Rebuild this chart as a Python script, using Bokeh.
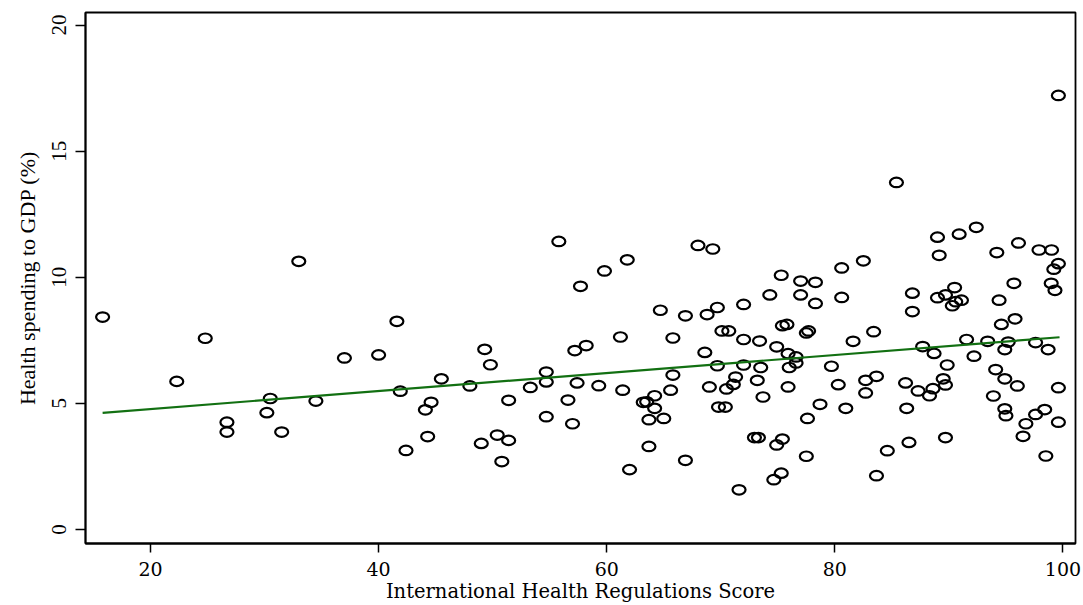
from bokeh.plotting import figure
from bokeh.models import Range1d, FixedTicker, ColumnDataSource
from bokeh.embed import file_html
from bokeh.resources import INLINE

# International Health Regulations score (x) vs health spending % of GDP (y)
ihr_score = [
    15.8, 24.8, 22.3, 30.5, 34.5, 30.2, 26.7, 26.7, 31.5, 37.0, 33.0,
    55.8, 57.7, 41.6, 40.0, 49.3, 49.8, 58.2, 57.2, 45.5, 41.9, 48.0,
    54.7, 54.7, 53.3, 57.4, 44.6, 44.1, 51.4, 56.6, 54.7, 57.0, 44.3,
    42.4, 49.0, 50.4, 51.4, 50.8,
    68.0, 69.3, 61.8, 59.8, 75.3, 77.0, 78.3, 74.3, 77.0, 78.3, 64.7,
    66.9, 68.8, 69.7, 72.0, 70.1, 70.7, 75.4, 75.8, 77.5, 77.7, 61.2,
    65.8, 72.0, 73.4, 74.9, 68.6, 75.9, 76.6,
    76.6, 69.7, 72.0, 73.5, 76.0, 65.8, 59.3, 61.4, 64.2, 63.2, 63.5,
    64.2, 65.6, 63.7, 65.0, 69.0, 70.5, 71.1, 71.3, 73.2, 75.9, 73.7,
    69.8, 70.4, 78.7, 77.6, 63.7, 72.95, 73.3, 75.4, 74.9, 77.5, 66.9,
    62.0, 75.3, 74.65, 71.6, 79.7,
    99.6, 85.4, 92.4, 90.9, 89.0, 96.1, 94.2, 97.9, 99.0, 89.15, 82.5,
    80.6, 99.6, 99.2, 95.7, 98.97, 99.3, 90.5, 86.8, 80.6,
    89.0, 89.7, 90.6, 91.1, 90.3, 94.4, 86.8, 95.8, 94.6, 83.4, 81.6,
    91.55, 93.4, 95.2, 97.6, 94.9, 98.7, 87.7, 88.7, 92.2, 89.85, 94.1,
    94.9, 82.7, 83.65, 86.2, 89.5, 89.7, 88.6, 87.3, 88.3, 96.0, 80.3,
    82.7, 99.6, 93.9, 80.96, 86.3, 94.9, 95.0, 98.4, 97.6, 96.75, 99.6,
    96.5, 89.7, 86.5, 84.6, 98.5, 83.65,
]
health_spending = [
    8.42, 7.58, 5.87, 5.19, 5.09, 4.63, 4.25, 3.86, 3.86, 6.80, 10.63,
    11.42, 9.64, 8.25, 6.92, 7.14, 6.53, 7.29, 7.09, 5.97, 5.48, 5.69,
    6.24, 5.85, 5.63, 5.81, 5.04, 4.74, 5.12, 5.13, 4.47, 4.19, 3.68,
    3.13, 3.41, 3.74, 3.53, 2.69,
    11.26, 11.12, 10.69, 10.25, 10.08, 9.85, 9.80, 9.30, 9.30, 8.96, 8.69,
    8.47, 8.52, 8.80, 8.92, 7.87, 7.87, 8.08, 8.13, 7.79, 7.87, 7.63,
    7.59, 7.53, 7.47, 7.24, 7.02, 6.97, 6.84,
    6.60, 6.49, 6.52, 6.42, 6.42, 6.12, 5.70, 5.52, 5.30, 5.04, 5.06,
    4.80, 5.52, 4.35, 4.40, 5.65, 5.57, 5.75, 6.04, 5.91, 5.65, 5.25,
    4.85, 4.85, 4.96, 4.40, 3.29, 3.64, 3.64, 3.58, 3.35, 2.90, 2.74,
    2.37, 2.23, 1.97, 1.57, 6.47,
    17.21, 13.76, 11.98, 11.71, 11.59, 11.36, 10.98, 11.08, 11.08, 10.87, 10.65,
    10.37, 10.54, 10.32, 9.76, 9.76, 9.48, 9.59, 9.37, 9.20,
    9.19, 9.30, 9.03, 9.09, 8.87, 9.09, 8.64, 8.35, 8.13, 7.84, 7.46,
    7.53, 7.46, 7.43, 7.41, 7.13, 7.13, 7.25, 6.98, 6.87, 6.52, 6.34,
    5.97, 5.91, 6.07, 5.81, 5.97, 5.73, 5.58, 5.49, 5.30, 5.69, 5.74,
    5.41, 5.62, 5.29, 4.80, 4.80, 4.78, 4.51, 4.75, 4.56, 4.19, 4.25,
    3.69, 3.64, 3.45, 3.12, 2.91, 2.13,
]

# Linear fit line (endpoints)
fit_x = [15.8, 99.7]
fit_y = [4.62, 7.62]

x_ticks = [20, 40, 60, 80, 100]
y_ticks = [0, 5, 10, 15, 20]

p = figure(
    width=1083, height=605,
    x_range=Range1d(14.3, 101.1), y_range=Range1d(-0.56, 20.5),
    output_backend="svg", toolbar_location=None,
    min_border_left=85, min_border_right=8, min_border_top=12, min_border_bottom=62,
    background_fill_color="white", border_fill_color="white",
)
p.grid.visible = False
p.outline_line_color = "black"
p.outline_line_width = 1.8

src = ColumnDataSource(dict(x=ihr_score, y=health_spending))
p.ellipse(x="x", y="y", width=13, height=9.5, width_units="screen", height_units="screen",
          source=src, fill_color=None, line_color="black", line_width=2.2)
p.line(fit_x, fit_y, line_color="#127012", line_width=2.2)

# X axis
xa = p.xaxis[0]
xa.ticker = FixedTicker(ticks=x_ticks)
xa.minor_tick_line_color = None
xa.major_tick_out = 9
xa.major_tick_in = 0
xa.major_tick_line_width = 1.5
xa.axis_line_width = 1.8
xa.major_label_standoff = 9
xa.major_label_text_font = "DejaVu Serif"
xa.major_label_text_font_size = "19px"
xa.major_label_text_color = "black"
xa.axis_label = "International Health Regulations Score"
xa.axis_label_text_font = "DejaVu Serif"
xa.axis_label_text_font_size = "19.5px"
xa.axis_label_text_font_style = "normal"
xa.axis_label_text_color = "black"
xa.axis_label_standoff = 1

# Y axis
ya = p.yaxis[0]
ya.ticker = FixedTicker(ticks=y_ticks)
ya.minor_tick_line_color = None
ya.major_tick_out = 10
ya.major_tick_in = 0
ya.major_tick_line_width = 1.5
ya.axis_line_width = 1.8
ya.major_label_orientation = "vertical"
ya.major_label_standoff = 9
ya.major_label_text_font = "Liberation Serif"
ya.major_label_text_font_size = "21px"
ya.major_label_text_color = "black"
ya.axis_label = "Health spending to GDP (%)"
ya.axis_label_text_font = "Liberation Serif"
ya.axis_label_text_font_size = "22px"
ya.axis_label_text_font_style = "normal"
ya.axis_label_text_color = "black"
ya.axis_label_standoff = 10

open("out.html", "w").write(file_html(p, INLINE))
